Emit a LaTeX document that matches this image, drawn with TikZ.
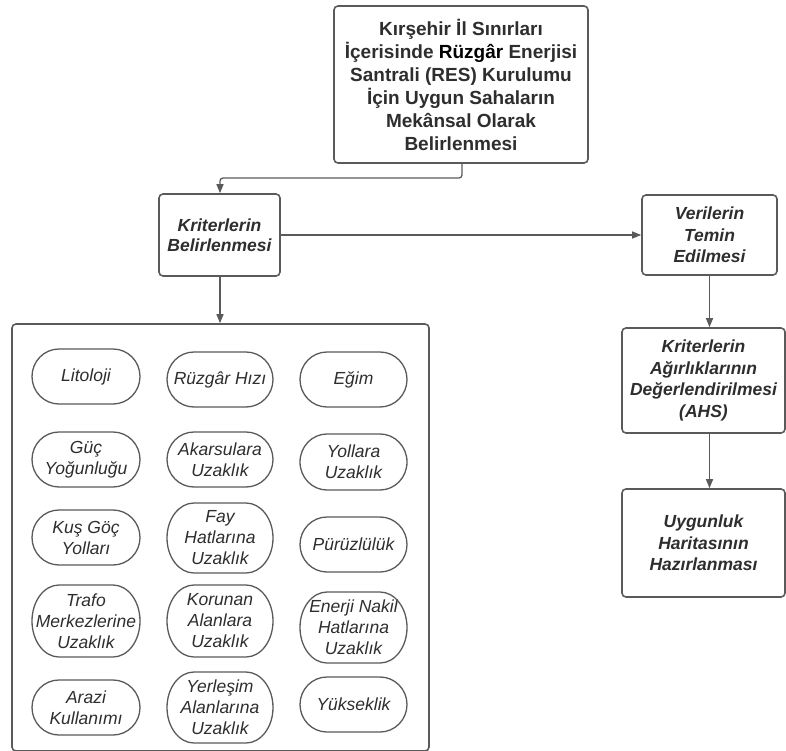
\documentclass[tikz,border=0pt]{standalone}
\usepackage{fontspec}
\setmainfont{Liberation Sans}
\usetikzlibrary{arrows.meta}
\definecolor{linec}{HTML}{5A5A5A}
\definecolor{txtc}{HTML}{2E2E2E}
\tikzset{
  box/.style={draw=linec, line width=1.6pt, rounded corners=4pt, fill=white, text=txtc, align=center, inner sep=2pt},
  pilltext/.style={text=txtc, align=center, inner sep=1pt, outer sep=0pt,
    font=\fontsize{17.5}{21}\selectfont\itshape},
  pillline/.style={draw=linec, line width=1.3pt},
  conn/.style={draw=linec, line width=1.3pt, -{Triangle[length=9pt,width=7pt]}}
}
\newcommand{\mypill}[6]{%
 \node[pilltext, minimum width=#4, minimum height=#5] (#1) at (#2,#3) {#6};
 \draw[pillline] ([xshift=27pt]#1.north west) -- ([xshift=-27pt]#1.north east)
   arc[start angle=90,end angle=-90,x radius=27pt,y radius=#5*0.5pt]
   -- ([xshift=27pt]#1.south west)
   arc[start angle=270,end angle=90,x radius=27pt,y radius=#5*0.5pt] -- cycle;}
\begin{document}
\begin{tikzpicture}[x=1pt,y=-1pt]
\useasboundingbox (0,0) rectangle (786,751);
% top
\node[box, minimum width=254, minimum height=157, font=\fontsize{19}{23}\selectfont\bfseries] (top) at (461,84.5)
 {Kırşehir İl Sınırları\\İçerisinde {\color{black}Rüzgâr} Enerjisi\\Santrali (RES) Kurulumu\\İçin Uygun Sahaların\\Mekânsal Olarak\\Belirlenmesi};
\node[box, minimum width=121, minimum height=82, font=\fontsize{17.5}{20.5}\selectfont\bfseries\itshape] (krit) at (219.5,235)
 {Kriterlerin\\Belirlenmesi};
\node[box, minimum width=135, minimum height=80, font=\fontsize{17.5}{21.5}\selectfont\bfseries\itshape] (veri) at (709.5,235)
 {Verilerin\\Temin\\Edilmesi};
\node[box, minimum width=163, minimum height=105, font=\fontsize{17.5}{21.7}\selectfont\bfseries\itshape] (agir) at (703.5,380.5)
 {Kriterlerin\\Ağırlıklarının\\Değerlendirilmesi\\(AHS)};
\node[box, minimum width=163, minimum height=108, font=\fontsize{17.5}{21.7}\selectfont\bfseries\itshape] (uyg) at (703.5,543)
 {Uygunluk\\Haritasının\\Hazırlanması};
% container
\node[box, minimum width=417, minimum height=427, rounded corners=4pt] (cont) at (220.5,537.5) {};
% pills
\mypill{p11}{86}{376.5}{108}{55}{Litoloji}
\mypill{p12}{220}{379.5}{106}{55}{Rüzgâr Hızı}
\mypill{p13}{353.5}{379.5}{107}{55}{Eğim}
\mypill{p21}{86}{459.5}{108}{55}{Güç\\Yoğunluğu}
\mypill{p22}{220}{459.5}{106}{55}{Akarsulara\\Uzaklık}
\mypill{p23}{353.5}{462}{107}{56}{Yollara\\Uzaklık}
\mypill{p31}{86}{537.5}{108}{55}{Kuş Göç\\Yolları}
\mypill{p32}{220}{538}{106}{70}{Fay\\Hatlarına\\Uzaklık}
\mypill{p33}{353.5}{544.5}{107}{55}{Pürüzlülük}
\mypill{p41}{86}{621}{108}{72}{Trafo\\Merkezlerine\\Uzaklık}
\mypill{p42}{220}{621}{106}{72}{Korunan\\Alanlara\\Uzaklık}
\mypill{p43}{353.5}{627.5}{107}{71}{Enerji Nakil\\Hatlarına\\Uzaklık}
\mypill{p51}{86}{707.5}{108}{55}{Arazi\\Kullanımı}
\mypill{p52}{220}{707.5}{106}{71}{Yerleşim\\Alanlarına\\Uzaklık}
\mypill{p53}{353.5}{704.5}{107}{55}{Yükseklik}
% connectors
\coordinate (b1) at (462,178);
\coordinate (b2) at (220,178);
\draw[conn, rounded corners=3pt] (top.south -| b1) -- (b1) -- (b2) -- (krit.north -| b2);
\draw[conn] (krit.east) -- (veri.west);
\draw[conn] (krit.south -| b2) -- (cont.north -| b2);
\draw[conn] (veri.south) -- (agir.north -| veri.south);
\draw[conn] (agir.south -| veri.south) -- (uyg.north -| veri.south);
\end{tikzpicture}
\end{document}
